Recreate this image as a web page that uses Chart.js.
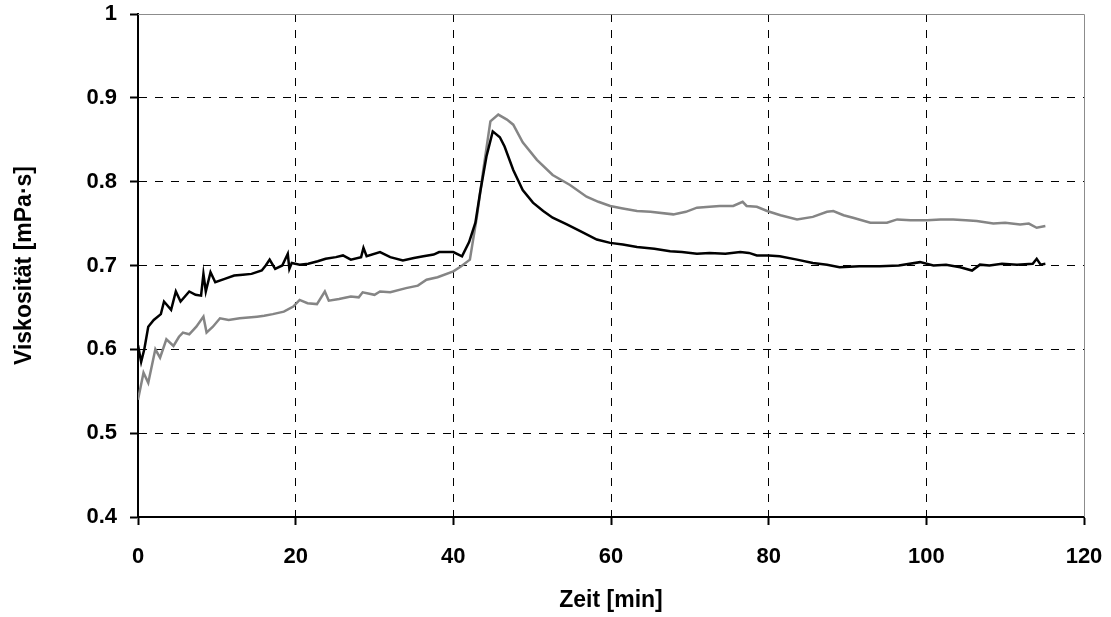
<!DOCTYPE html>
<html>
<head>
<meta charset="utf-8">
<script src="https://cdn.jsdelivr.net/npm/chart.js@4"></script>
<style>
  html, body { margin: 0; padding: 0; background: #fff; }
  canvas { display: block; }
</style>
</head>
<body>
<canvas id="viscChart" width="1111" height="617"></canvas>
<script>
// Viskosität über der Zeit, zwei Messreihen
const zeitSchwarz = [0, 0.4, 0.8, 1.3, 2.0, 2.9, 3.3, 4.2, 4.8, 5.4, 6.5, 7.3, 8.0, 8.3, 8.6, 9.2, 9.8, 11.0, 12.2, 13.3,
  14.4, 15.7, 16.2, 16.7, 17.4, 18.3, 19.0, 19.2, 19.5, 20.5, 21.6, 22.8, 23.8, 25.1, 26.0, 27.0, 28.3, 28.6, 29.0, 30.7,
  32.0, 33.6, 35.0, 36.2, 37.5, 38.2, 40.0, 41.1, 42.0, 42.8, 43.4, 44.2, 45.0, 45.9, 46.5, 47.6, 48.8, 50.1, 51.4, 52.6,
  54.4, 56.1, 58.2, 59.9, 61.5, 63.3, 65.5, 67.5, 69.0, 70.9, 72.5, 74.5, 76.4, 77.5, 78.5, 80.0, 81.4, 83.6, 85.6, 87.4,
  89.0, 91.5, 94.1, 96.5, 99.2, 100.9, 102.5, 104.3, 105.8, 106.8, 108.0, 109.6, 111.5, 113.5, 114.0, 114.5, 115.1];
const viskSchwarz = [0.605, 0.585, 0.600, 0.627, 0.635, 0.642, 0.657, 0.647, 0.669, 0.657, 0.669, 0.665, 0.664, 0.690, 0.669, 0.692, 0.680, 0.684, 0.688, 0.689,
  0.690, 0.694, 0.700, 0.707, 0.696, 0.700, 0.714, 0.696, 0.703, 0.701, 0.702, 0.705, 0.708, 0.710, 0.712, 0.707, 0.710, 0.721, 0.711, 0.716,
  0.710, 0.706, 0.709, 0.711, 0.713, 0.716, 0.716, 0.711, 0.728, 0.751, 0.787, 0.830, 0.860, 0.853, 0.842, 0.814, 0.790, 0.775, 0.765, 0.757,
  0.749, 0.741, 0.731, 0.727, 0.725, 0.722, 0.720, 0.717, 0.716, 0.714, 0.715, 0.714, 0.716, 0.715, 0.712, 0.712, 0.711, 0.707, 0.703, 0.701,
  0.698, 0.699, 0.699, 0.700, 0.704, 0.700, 0.701, 0.698, 0.694, 0.701, 0.700, 0.702, 0.701, 0.702, 0.708, 0.701, 0.702];

const zeitGrau = [0, 0.7, 1.3, 2.2, 2.8, 3.6, 4.5, 5.2, 5.7, 6.5, 7.4, 8.3, 8.7, 9.5, 10.4, 11.5, 12.9, 14.0, 15.1, 16.0,
  17.1, 18.5, 19.7, 20.5, 21.5, 22.7, 23.7, 24.2, 25.5, 27.0, 28.0, 28.5, 30.0, 30.7, 32.0, 34.0, 35.5, 36.6, 38.0, 40.0,
  41.0, 42.1, 43.0, 43.8, 44.7, 45.7, 46.8, 47.6, 48.8, 50.6, 52.6, 54.8, 56.9, 58.4, 59.9, 61.5, 63.3, 65.0, 67.9, 69.5,
  70.9, 72.5, 73.8, 75.5, 76.7, 77.2, 78.5, 79.8, 81.5, 83.6, 85.6, 87.4, 88.2, 89.5, 90.7, 92.9, 95.0, 96.3, 98.0, 100.1,
  101.8, 103.4, 105.0, 106.4, 108.5, 110.0, 111.9, 113.0, 114.0, 115.1];
const viskGrau = [0.540, 0.572, 0.560, 0.600, 0.590, 0.612, 0.604, 0.615, 0.620, 0.618, 0.627, 0.639, 0.620, 0.627, 0.637, 0.635, 0.637, 0.638, 0.639, 0.640,
  0.642, 0.645, 0.651, 0.659, 0.655, 0.654, 0.669, 0.658, 0.660, 0.663, 0.662, 0.668, 0.665, 0.669, 0.668, 0.673, 0.676, 0.683, 0.686, 0.693,
  0.699, 0.707, 0.759, 0.814, 0.872, 0.880, 0.874, 0.868, 0.847, 0.826, 0.808, 0.796, 0.782, 0.776, 0.771, 0.768, 0.765, 0.764, 0.761, 0.764,
  0.769, 0.770, 0.771, 0.771, 0.776, 0.771, 0.770, 0.765, 0.760, 0.755, 0.758, 0.764, 0.765, 0.760, 0.757, 0.751, 0.751, 0.755, 0.754, 0.754,
  0.755, 0.755, 0.754, 0.753, 0.750, 0.751, 0.749, 0.750, 0.745, 0.747];

const xTicks = [0, 20, 40, 60, 80, 100, 120];
const yTicks = [0.4, 0.5, 0.6, 0.7, 0.8, 0.9, 1];

const FONT = "'Liberation Sans', Arial, sans-serif";

function toPoints(xs, ys) {
  return xs.map((x, i) => ({ x: x, y: ys[i] }));
}

// thin grey frame on top and right
const frame = {
  id: "frame",
  afterDatasetsDraw(chart) {
    const { ctx, chartArea: a } = chart;
    ctx.save();
    ctx.strokeStyle = "#8c8c8c";
    ctx.lineWidth = 1;
    ctx.beginPath();
    ctx.moveTo(a.left, Math.round(a.top) + 0.5);
    ctx.lineTo(Math.round(a.right) + 0.5, Math.round(a.top) + 0.5);
    ctx.lineTo(Math.round(a.right) + 0.5, a.bottom);
    ctx.stroke();
    ctx.restore();
  }
};

const gridOpts = hideAt => ({
  color: ctx => (ctx.tick && Math.abs(ctx.tick.value - hideAt) < 1e-9 ? "rgba(0,0,0,0)" : "#000"),
  lineWidth: 1,
  drawTicks: true,
  tickLength: 8,
  tickColor: "#000",
  tickWidth: 2,
  tickBorderDash: []
});

new Chart(document.getElementById("viscChart"), {
  type: "line",
  data: {
    datasets: [
      {
        data: toPoints(zeitSchwarz, viskSchwarz),
        borderColor: "#000",
        borderWidth: 2.5,
        pointRadius: 0,
        tension: 0
      },
      {
        data: toPoints(zeitGrau, viskGrau),
        borderColor: "#858585",
        borderWidth: 2.5,
        pointRadius: 0,
        tension: 0
      }
    ]
  },
  options: {
    responsive: false,
    animation: false,
    layout: { padding: { left: 0, top: 14, right: 27, bottom: 0 } },
    plugins: { legend: { display: false }, tooltip: { enabled: false } },
    scales: {
      x: {
        type: "linear",
        min: 0,
        max: 120,
        afterFit: s => {
          s.height = 100;
          s.paddingLeft = 0;
          s.paddingRight = 0;
        },
        afterBuildTicks: s => { s.ticks = xTicks.map(v => ({ value: v })); },
        ticks: {
          color: "#000",
          font: { family: FONT, size: 22, weight: "bold" },
          padding: 19,
          maxRotation: 0,
          callback: v => String(v)
        },
        grid: gridOpts(120),
        border: { display: true, color: "#000", width: 2, dash: [8, 8] },
        title: {
          display: true,
          text: "Zeit [min]",
          color: "#000",
          font: { family: FONT, size: 23, weight: "bold" },
          padding: { top: 0, bottom: 3 }
        }
      },
      y: {
        type: "linear",
        min: 0.4,
        max: 1,
        afterFit: s => {
          s.width = 138;
          s.paddingTop = 0;
          s.paddingBottom = 0;
        },
        afterBuildTicks: s => { s.ticks = yTicks.map(v => ({ value: v })); },
        ticks: {
          color: "#000",
          font: { family: FONT, size: 22, weight: "bold" },
          padding: 13,
          callback: v => String(Math.round(v * 10) / 10)
        },
        grid: gridOpts(1),
        border: { display: true, color: "#000", width: 2, dash: [8, 8] },
        title: {
          display: true,
          text: "Viskosität [mPa·s]",
          color: "#000",
          font: { family: FONT, size: 23, weight: "bold" },
          padding: { top: 11, bottom: 0 }
        }
      }
    }
  },
  plugins: [frame]
});
</script>
</body>
</html>
